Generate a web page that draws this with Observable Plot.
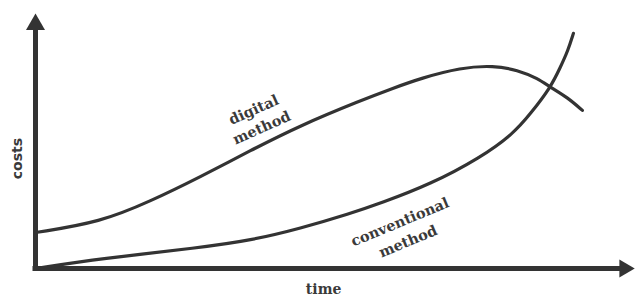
<!DOCTYPE html>
<html>
<head>
<meta charset="utf-8">
<script src="https://cdn.jsdelivr.net/npm/d3@7"></script>
<script src="https://cdn.jsdelivr.net/npm/@observablehq/plot@0.6"></script>
<style>
  html, body { margin: 0; padding: 0; background: #fff; }
  #chart svg { display: block; }
</style>
</head>
<body>
<div id="chart"></div>
<script>
// Digital method cost curve (time, cost) in arbitrary units 0–100
const digitalTime = [0, 10.9, 19.2, 27.5, 35.9, 44.2, 54.3, 59.8, 64.3, 71.0, 76.5, 80.5, 83.8, 86.0, 88.8, 91.3];
const digitalCost = [14.1, 18.2, 26.4, 35.9, 46.3, 56.1, 65.9, 70.8, 74.6, 78.8, 79.6, 77.8, 74.6, 71.0, 67.1, 62.0];

// Conventional method cost curve
const conventionalTime = [0, 10.9, 27.5, 35.9, 44.2, 52.6, 57.6, 65.9, 74.3, 79.8, 82.6, 86.0, 87.6, 88.9, 89.8];
const conventionalCost = [0, 3.9, 8.2, 11.0, 15.7, 21.6, 25.6, 33.0, 43.5, 52.9, 60.6, 71.0, 78.8, 85.5, 92.2];

const seriesLabels = ["digital\nmethod", "conventional\nmethod"];
const axisTitles = ["time", "costs"];

const ink = "#333333";

const digital = digitalTime.map((t, i) => ({time: t, cost: digitalCost[i]}));
const conventional = conventionalTime.map((t, i) => ({time: t, cost: conventionalCost[i]}));

const chart = Plot.plot({
  width: 636,
  height: 296,
  marginLeft: 35,
  marginRight: 2,
  marginTop: 13,
  marginBottom: 28,
  x: {domain: [0, 100], axis: null},
  y: {domain: [0, 100], axis: null},
  style: {background: "#fff", color: ink},
  marks: [
    // axes
    Plot.ruleX([0], {stroke: ink, strokeWidth: 5, insetTop: 14, insetBottom: -2.5}),
    Plot.ruleY([0], {stroke: ink, strokeWidth: 5, insetRight: 10, insetLeft: -2.5}),
    Plot.dot([0], {x: 0, y: 100, symbol: "triangle", r: 7.05, fill: ink, stroke: "none", dy: 11}),
    Plot.dot([0], {x: 100, y: 0, symbol: "triangle", r: 6.6, fill: ink, stroke: "none", rotate: 90, dx: -10}),
    // curves
    Plot.line(digital, {x: "time", y: "cost", curve: "basis", stroke: ink, strokeWidth: 3.2}),
    Plot.line(conventional, {x: "time", y: "cost", curve: "basis", stroke: ink, strokeWidth: 3.2}),
    // series labels
    Plot.text([seriesLabels[0]], {x: 37.0, y: 59.2, text: d => d, rotate: -24, fontFamily: "DejaVu Serif", fontWeight: "bold", fontSize: 14.5, fill: "#3a3a3a", lineHeight: 1.35, textAnchor: "middle"}),
    Plot.text([seriesLabels[1]], {x: 61.4, y: 15.1, text: d => d, rotate: -22.5, fontFamily: "DejaVu Serif", fontWeight: "bold", fontSize: 14.5, fill: "#3a3a3a", lineHeight: 1.45, textAnchor: "middle"}),
    // axis titles
    Plot.text([axisTitles[0]], {x: 48.1, y: 0, dy: 21, text: d => d, fontFamily: "DejaVu Serif", fontWeight: "bold", fontSize: 14, fill: "#3a3a3a"}),
    Plot.text([axisTitles[1]], {x: 0, y: 43.1, dx: -18, text: d => d, rotate: -90, fontFamily: "DejaVu Sans", fontWeight: "bold", fontSize: 14, fill: "#3a3a3a"})
  ]
});
document.getElementById("chart").appendChild(chart);
</script>
</body>
</html>
